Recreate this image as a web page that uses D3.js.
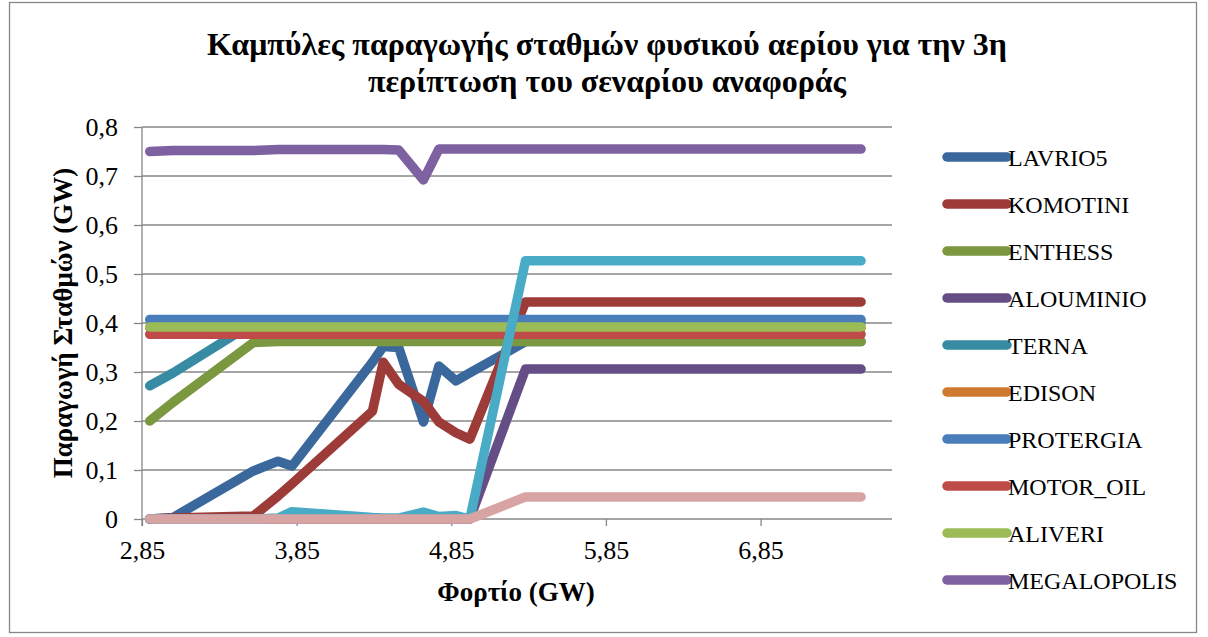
<!DOCTYPE html>
<html>
<head>
<meta charset="utf-8">
<script src="https://cdn.jsdelivr.net/npm/d3@7"></script>
<style>
  body { margin: 0; background: #fff; }
  svg { display: block; }
</style>
</head>
<body>
<svg id="chart"></svg>
<script>
// load levels (GW) - shared x column
var loads = [2.90, 3.05, 3.57, 3.73, 3.82, 4.34, 4.41, 4.51, 4.67, 4.77, 4.88, 4.97, 5.33, 7.18, 7.50];

// station output (GW)
var lavrio5     = [0, 0.003, 0.098, 0.118, 0.108, 0.32, 0.352, 0.35, 0.198, 0.312, 0.282, 0.298, 0.362, 0.362, 0.362];
var komotini    = [0, 0.002, 0.006, 0.047, 0.072, 0.22, 0.32, 0.275, 0.24, 0.198, 0.176, 0.163, 0.443, 0.443, 0.443];
var enthess     = [0.2, 0.238, 0.36, 0.362, 0.362, 0.362, 0.362, 0.362, 0.362, 0.362, 0.362, 0.362, 0.362, 0.362, 0.362];
var alouminio   = [0, 0, 0, 0, 0, 0, 0, 0, 0, 0, 0, 0, 0.306, 0.306, 0.306];
var terna       = [0.272, 0.298, 0.4, 0.4, 0.4, 0.4, 0.4, 0.4, 0.4, 0.4, 0.4, 0.4, 0.4, 0.4, 0.4];
var edison      = [0.39, 0.39, 0.39, 0.39, 0.39, 0.39, 0.39, 0.39, 0.39, 0.39, 0.39, 0.39, 0.39, 0.39, 0.39];
var protergia   = [0.407, 0.407, 0.407, 0.407, 0.407, 0.407, 0.407, 0.407, 0.407, 0.407, 0.407, 0.407, 0.407, 0.407, 0.407];
var motorOil    = [0.377, 0.377, 0.377, 0.377, 0.377, 0.377, 0.377, 0.377, 0.377, 0.377, 0.377, 0.377, 0.377, 0.377, 0.377];
var aliveri     = [0.392, 0.392, 0.392, 0.392, 0.392, 0.392, 0.392, 0.392, 0.392, 0.392, 0.392, 0.392, 0.392, 0.392, 0.392];
var megalopolis = [0.75, 0.752, 0.752, 0.754, 0.754, 0.754, 0.754, 0.753, 0.692, 0.755, 0.755, 0.755, 0.755, 0.755, 0.755];
// two more series are plotted but fall outside the legend box
var series11    = [0, 0, 0, 0.002, 0.015, 0.003, 0.002, 0.002, 0.014, 0.005, 0.007, 0, 0.527, 0.527, 0.527];
var series12    = [0, 0, 0, 0, 0, 0, 0, 0, 0, 0, 0, 0, 0.045, 0.045, 0.045];

var seriesNames = ['LAVRIO5', 'KOMOTINI', 'ENTHESS', 'ALOUMINIO', 'TERNA', 'EDISON',
                   'PROTERGIA', 'MOTOR_OIL', 'ALIVERI', 'MEGALOPOLIS', '', ''];
var seriesValues = [lavrio5, komotini, enthess, alouminio, terna, edison,
                    protergia, motorOil, aliveri, megalopolis, series11, series12];
var seriesColors = ['#3b689c', '#9c3b38', '#7b973f', '#654e85', '#378ca3', '#cf7a31',
                    '#4a7ebb', '#be4b48', '#9abb55', '#7e61a1', '#4aabc6', '#d7a4a3'];

var xTicks = [2.85, 3.85, 4.85, 5.85, 6.85];
var yTicks = [0, 0.1, 0.2, 0.3, 0.4, 0.5, 0.6, 0.7, 0.8];

var width = 1208,
    height = 637,
    plot = { left: 142, top: 127, right: 892, bottom: 519 },
    serif = '"Liberation Serif", "DejaVu Serif", serif',
    gridColor = '#878787';

var fmt = function (d) { return String(d).replace('.', ','); };

var svg = d3.select('#chart')
    .attr('width', width)
    .attr('height', height);

// chart area border
svg.append('rect')
    .attr('x', 9.5)
    .attr('y', 2.5)
    .attr('width', 1187)
    .attr('height', 630)
    .attr('fill', '#fff')
    .attr('stroke', gridColor)
    .attr('stroke-width', 1.3);

var x = d3.scaleLinear().domain([2.85, 7.7]).range([plot.left, plot.right]);
var y = d3.scaleLinear().domain([0, 0.8]).range([plot.bottom, plot.top]);

// gridlines
svg.append('g')
    .selectAll('line')
    .data(yTicks.slice(1))
    .enter().append('line')
    .attr('x1', plot.left)
    .attr('x2', plot.right)
    .attr('y1', function (d) { return y(d); })
    .attr('y2', function (d) { return y(d); })
    .attr('stroke', gridColor)
    .attr('stroke-width', 1.3);

// y axis
var yAxis = svg.append('g')
    .attr('transform', 'translate(' + plot.left + ',0)')
    .call(d3.axisLeft(y).tickValues(yTicks).tickFormat(fmt).tickSize(8).tickPadding(16));

// x axis
var xAxis = svg.append('g')
    .attr('transform', 'translate(0,' + plot.bottom + ')')
    .call(d3.axisBottom(x).tickValues(xTicks).tickFormat(fmt).tickSize(7).tickPadding(15));

[yAxis, xAxis].forEach(function (ax) {
    ax.select('.domain').attr('stroke', gridColor).attr('stroke-width', 1.3);
    ax.selectAll('.tick line').attr('stroke', gridColor).attr('stroke-width', 1.3);
    ax.selectAll('.tick text')
        .attr('fill', '#000')
        .style('font-family', serif)
        .style('font-size', '26px');
});
xAxis.select('.domain').attr('d', 'M' + plot.left + ',0H' + plot.right);
yAxis.select('.domain').attr('d', 'M0,' + plot.top + 'V' + (plot.bottom + 7));

// series lines
var line = d3.line()
    .x(function (d, i) { return x(loads[i]); })
    .y(function (d) { return y(d); });

svg.append('g')
    .selectAll('path')
    .data(seriesValues)
    .enter().append('path')
    .attr('d', line)
    .attr('fill', 'none')
    .attr('stroke', function (d, i) { return seriesColors[i]; })
    .attr('stroke-width', 9.5)
    .attr('stroke-linecap', 'round')
    .attr('stroke-linejoin', 'round');

// title
svg.append('text')
    .attr('x', 607)
    .attr('y', 55)
    .attr('text-anchor', 'middle')
    .style('font-family', serif)
    .style('font-weight', 'bold')
    .style('font-size', '32px')
    .selectAll('tspan')
    .data(['Καμπύλες παραγωγής σταθμών φυσικού αερίου για την 3η', 'περίπτωση του σεναρίου αναφοράς'])
    .enter().append('tspan')
    .attr('x', 607)
    .attr('dy', function (d, i) { return i === 0 ? 0 : 37; })
    .text(function (d) { return d; });

// axis titles
svg.append('text')
    .attr('transform', 'translate(72,323) rotate(-90)')
    .attr('text-anchor', 'middle')
    .style('font-family', serif)
    .style('font-weight', 'bold')
    .style('font-size', '27px')
    .text('Παραγωγή Σταθμών (GW)');

svg.append('text')
    .attr('x', 516)
    .attr('y', 601)
    .attr('text-anchor', 'middle')
    .style('font-family', serif)
    .style('font-weight', 'bold')
    .style('font-size', '27px')
    .text('Φορτίο (GW)');

// legend (only the first ten entries fit)
var legend = svg.append('g')
    .selectAll('g')
    .data(seriesNames.slice(0, 10))
    .enter().append('g')
    .attr('transform', function (d, i) { return 'translate(947,' + (157 + i * 47) + ')'; });

legend.append('line')
    .attr('x1', 0)
    .attr('x2', 60)
    .attr('stroke', function (d, i) { return seriesColors[i]; })
    .attr('stroke-width', 9.5)
    .attr('stroke-linecap', 'round');

legend.append('text')
    .attr('x', 61)
    .attr('y', 9)
    .style('font-family', serif)
    .style('font-size', '24px')
    .text(function (d) { return d; });
</script>
</body>
</html>
